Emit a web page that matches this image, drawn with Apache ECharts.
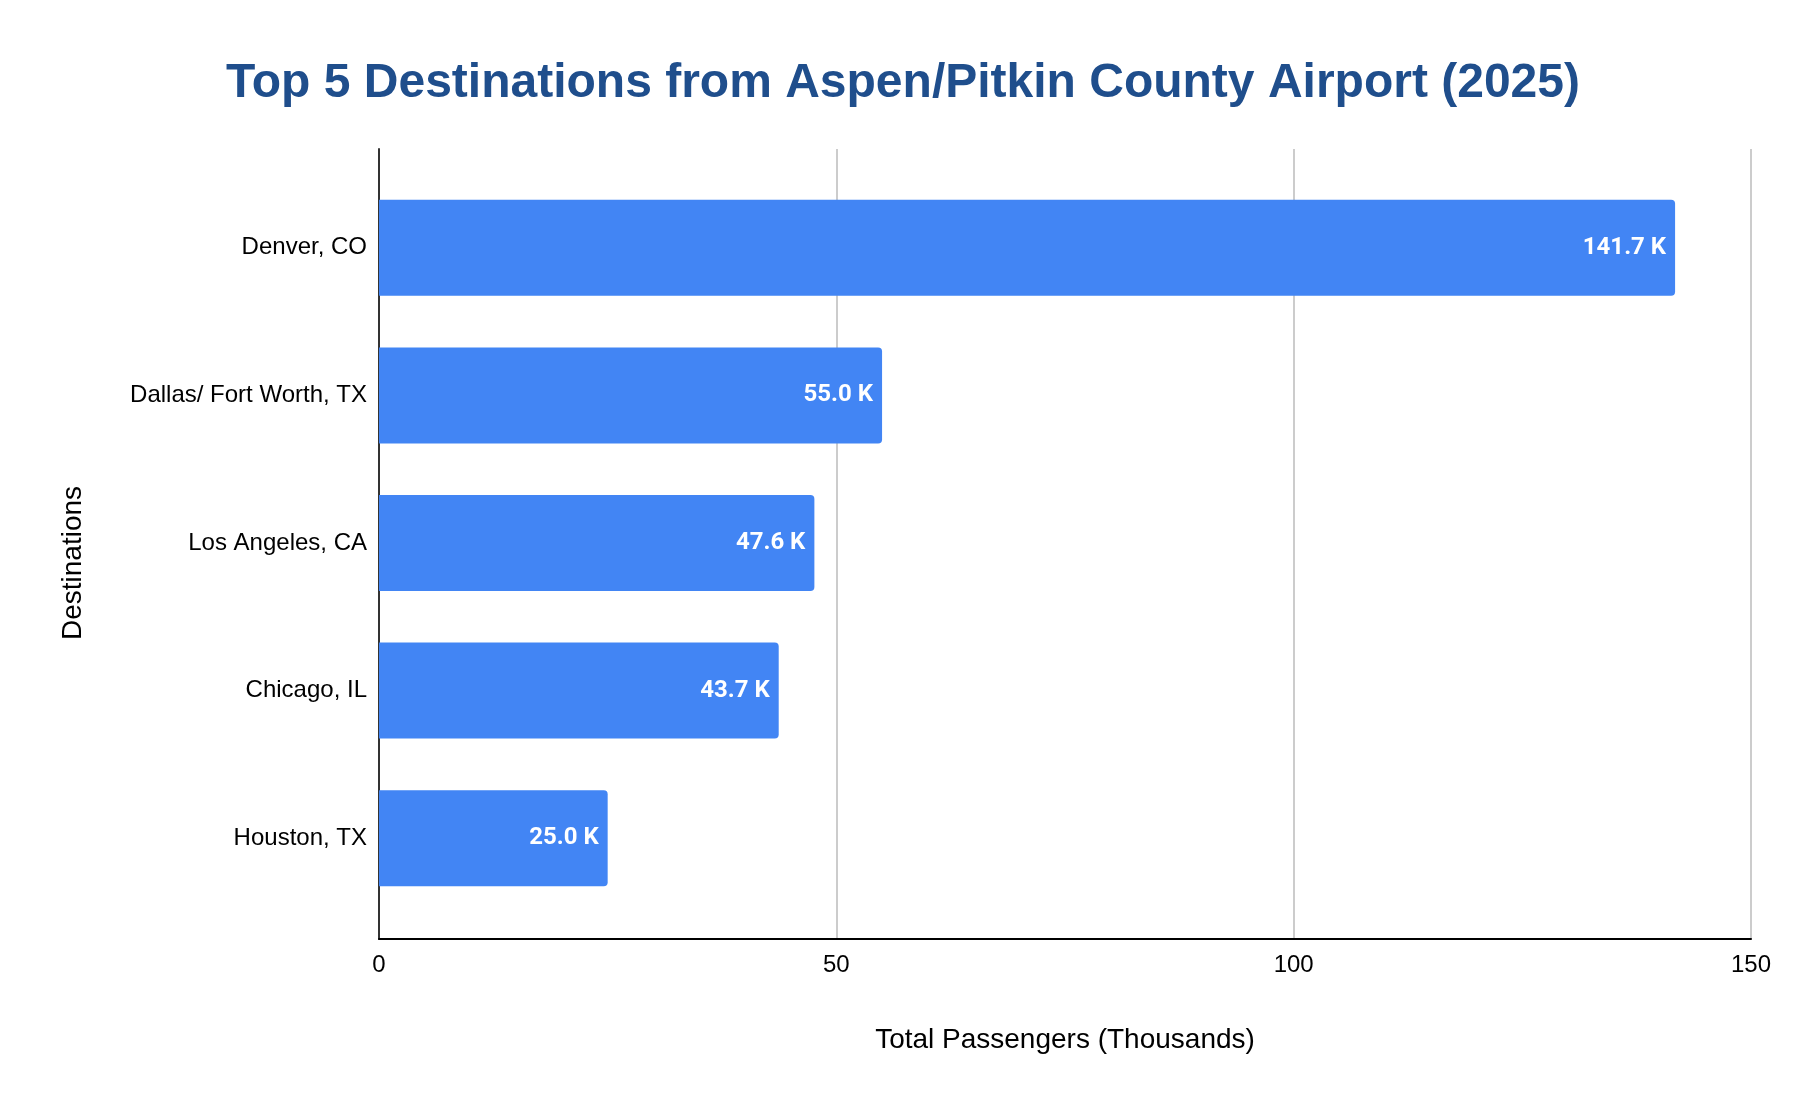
<!DOCTYPE html>
<html>
<head>
<meta charset="utf-8">
<script src="https://cdn.jsdelivr.net/npm/echarts@6/dist/echarts.min.js"></script>
<style>
  html, body { margin: 0; padding: 0; background: #fff; }
  #chart { width: 1806px; height: 1108px; }
</style>
</head>
<body>
<div id="chart"></div>
<script>
// Top 5 destinations, passengers in thousands
const destinations = ['Denver, CO', 'Dallas/ Fort Worth, TX', 'Los Angeles, CA', 'Chicago, IL', 'Houston, TX']
const passengers = [141.7, 55.0, 47.6, 43.7, 25.0]
const xTicks = [0, 50, 100, 150]

const barColor = '#4285F4'
const labelFont = '"Liberation Sans", Arial, sans-serif'

const chart = echarts.init(document.getElementById('chart'))

chart.setOption({
  animation: false,
  backgroundColor: '#ffffff',
  title: {
    text: 'Top 5 Destinations from Aspen/Pitkin County Airport (2025)',
    left: 'center',
    top: 55,
    textStyle: {
      fontFamily: labelFont,
      fontWeight: 'bold',
      fontSize: 48,
      color: '#1F4E8C',
    },
  },
  // grid 0 draws the frame (axis lines, gridlines, ticks); grid 1 holds the bars
  grid: [
    { left: 379, right: 55, top: 149, bottom: 169 },
    { left: 379, right: 55, top: 174, bottom: 196 },
  ],
  xAxis: [
    {
      gridIndex: 0,
      type: 'value',
      min: xTicks[0],
      max: xTicks[xTicks.length - 1],
      interval: 50,
      name: 'Total Passengers (Thousands)',
      nameLocation: 'middle',
      nameGap: 87,
      nameTextStyle: { fontFamily: labelFont, fontSize: 28, color: '#000' },
      axisLine: { show: true, lineStyle: { color: '#000', width: 2 } },
      axisTick: { show: false },
      axisLabel: { margin: 14, fontFamily: labelFont, fontSize: 24, color: '#000' },
      splitLine: { show: true, lineStyle: { color: '#cccccc', width: 2 } },
    },
    {
      gridIndex: 1,
      type: 'value',
      min: xTicks[0],
      max: xTicks[xTicks.length - 1],
      show: false,
      splitLine: { show: false },
    },
  ],
  yAxis: [
    {
      gridIndex: 0,
      type: 'category',
      data: [''],
      name: 'Destinations',
      nameLocation: 'middle',
      nameGap: 292,
      nameRotate: 90,
      // extra end padding pushes the rotated title down a little
      nameTextStyle: { fontFamily: labelFont, fontSize: 28, color: '#000', padding: [0, 38, 0, 0] },
      axisLine: { show: true, lineStyle: { color: '#333', width: 2 } },
      axisTick: { show: false },
      axisLabel: { show: false },
      splitLine: { show: false },
    },
    {
      gridIndex: 1,
      type: 'category',
      inverse: true,
      data: destinations,
      axisLine: { show: false },
      axisTick: { show: false },
      axisLabel: { margin: 12, fontFamily: labelFont, fontSize: 24, color: '#000' },
      splitLine: { show: false },
    },
  ],
  series: [{
    type: 'bar',
    xAxisIndex: 1,
    yAxisIndex: 1,
    data: passengers,
    barWidth: 96,
    itemStyle: { color: barColor, borderRadius: [0, 4, 4, 0] },
    label: {
      show: true,
      position: 'insideRight',
      distance: 9,
      color: '#fff',
      fontFamily: 'Roboto, sans-serif',
      fontWeight: 'bold',
      fontSize: 24,
      formatter: (p) => p.value.toFixed(1) + ' K',
    },
  }],
})
</script>
</body>
</html>
